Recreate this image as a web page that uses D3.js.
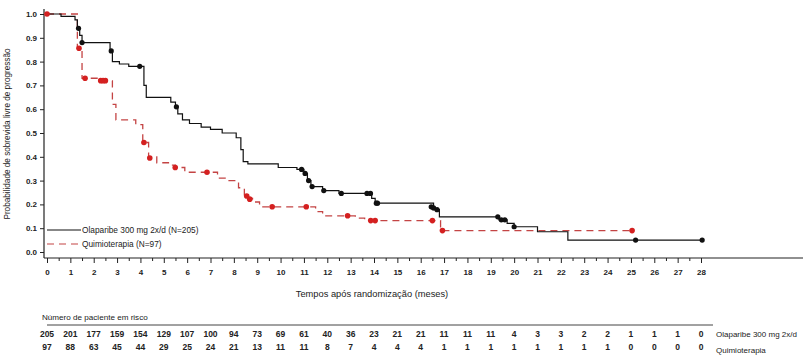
<!DOCTYPE html>
<html>
<head>
<meta charset="utf-8">
<script src="https://cdn.jsdelivr.net/npm/d3@7"></script>
<style>
  html, body { margin: 0; padding: 0; background: #fff; }
  svg { display: block; }
  text { font-family: "Liberation Sans", Arial, sans-serif; fill: #222; }
</style>
</head>
<body>
<svg id="chart" width="803" height="364"></svg>
<script>
// ---------- DATA ----------
const olaSteps = [
  [0, 1.0], [0.6, 0.99], [1.2, 0.975], [1.3, 0.94], [1.4, 0.91], [1.5, 0.88],
  [2.7, 0.845], [2.8, 0.80], [3.1, 0.79], [3.5, 0.78], [4.15, 0.70], [4.25, 0.65],
  [5.3, 0.63], [5.5, 0.61], [5.6, 0.58], [5.8, 0.555], [6.1, 0.54], [6.6, 0.525],
  [7.0, 0.515], [7.5, 0.50], [8.1, 0.48], [8.3, 0.43], [8.4, 0.38], [8.6, 0.37],
  [9.9, 0.355], [10.7, 0.347], [11.0, 0.33], [11.15, 0.30], [11.3, 0.275],
  [11.8, 0.258], [12.5, 0.246], [13.9, 0.225], [14.05, 0.205], [16.55, 0.178],
  [16.8, 0.148], [19.35, 0.135], [19.7, 0.12], [20.0, 0.106], [21.0, 0.085],
  [22.3, 0.05], [28.05, 0.05]
];
const olaCensor = [
  [1.35, 0.94], [1.5, 0.88], [2.75, 0.845], [3.97, 0.78], [5.54, 0.61],
  [10.9, 0.347], [11.05, 0.33], [11.2, 0.30], [11.35, 0.275], [11.85, 0.258],
  [12.6, 0.246], [13.7, 0.246], [13.85, 0.246], [14.1, 0.205], [14.15, 0.205],
  [16.45, 0.19], [16.55, 0.185], [16.7, 0.178], [19.3, 0.148], [19.45, 0.135],
  [19.6, 0.135], [20.0, 0.106], [25.2, 0.05], [28.05, 0.05]
];
const quimioSteps = [
  [0, 1.0], [1.3, 0.856], [1.5, 0.73], [2.3, 0.72], [2.8, 0.62], [2.95, 0.555],
  [3.8, 0.535], [4.1, 0.46], [4.35, 0.40], [4.7, 0.375], [5.2, 0.365], [5.5, 0.355],
  [5.9, 0.335], [7.3, 0.31], [7.7, 0.30], [8.2, 0.27], [8.45, 0.24], [8.6, 0.225],
  [8.8, 0.21], [9.1, 0.19], [11.5, 0.17], [11.8, 0.152], [13.2, 0.142], [13.6, 0.132],
  [16.85, 0.09], [25.05, 0.09]
];
const quimioCensor = [
  [0, 1.0], [1.37, 0.856], [1.63, 0.73], [2.3, 0.72], [2.4, 0.72], [2.5, 0.72],
  [4.15, 0.46], [4.4, 0.395], [5.49, 0.355], [6.85, 0.335], [8.55, 0.235],
  [8.68, 0.222], [9.64, 0.19], [11.1, 0.19], [12.87, 0.152], [13.86, 0.132],
  [14.05, 0.132], [16.5, 0.132], [16.93, 0.09], [25.05, 0.09]
];
const xTicks = d3.range(0, 29);
const yTicks = [0, 0.1, 0.2, 0.3, 0.4, 0.5, 0.6, 0.7, 0.8, 0.9, 1.0];
const riskOla = [205, 201, 177, 159, 154, 129, 107, 100, 94, 73, 69, 61, 40, 36, 23, 21, 21, 11, 11, 11, 4, 3, 3, 2, 2, 1, 1, 1, 0];
const riskQuimio = [97, 88, 63, 45, 44, 29, 25, 24, 21, 13, 11, 11, 8, 7, 4, 4, 4, 1, 1, 1, 1, 1, 1, 1, 1, 0, 0, 0, 0];
const seriesNames = ["Olaparibe 300 mg 2x/d (N=205)", "Quimioterapia (N=97)"];
const riskNames = ["Olaparibe 300 mg 2x/d", "Quimioterapia"];
const yTitle = "Probabilidade de sobrevida livre de progressão";
const xTitle = "Tempos após randomização (meses)";
const riskTitle = "Número de paciente em risco";

// ---------- DRAW ----------
const svg = d3.select("#chart");
const x = d3.scaleLinear().domain([0, 28]).range([47, 701]);
const y = d3.scaleLinear().domain([0, 1]).range([252, 14]);
const axisX = 44, axisY = 258;
const black = "#111", red = "#d42020", redLine = "#c44444";

// y axis
svg.append("line").attr("x1", axisX).attr("x2", axisX).attr("y1", 9).attr("y2", axisY)
  .attr("stroke", "#222").attr("stroke-width", 1.2);
const ya = svg.append("g").attr("transform", `translate(${axisX},0)`)
  .call(d3.axisLeft(y).tickValues(yTicks).tickFormat(d3.format(".1f")).tickSize(4).tickPadding(3));
ya.select(".domain").remove();
ya.selectAll(".tick line").attr("stroke", "#222");
ya.selectAll(".tick text").attr("font-size", 8).attr("font-weight", "bold").attr("fill", "#333")
  .style("font-family", "Liberation Sans, Arial, sans-serif");

// x axis
svg.append("line").attr("x1", axisX).attr("x2", 803).attr("y1", axisY).attr("y2", axisY)
  .attr("stroke", "#222").attr("stroke-width", 1.2);
const xa = svg.append("g").attr("transform", `translate(0,${axisY})`)
  .call(d3.axisBottom(x).tickValues(xTicks).tickFormat(d3.format("d")).tickSize(5).tickPadding(6));
xa.select(".domain").remove();
xa.selectAll(".tick line").attr("stroke", "#222");
xa.selectAll(".tick text").attr("font-size", 8).attr("font-weight", "bold").attr("fill", "#333")
  .style("font-family", "Liberation Sans, Arial, sans-serif");
const xm = svg.append("g").attr("transform", `translate(0,${axisY})`)
  .call(d3.axisBottom(x).tickValues(d3.range(0.5, 28, 1)).tickFormat("").tickSize(3));
xm.select(".domain").remove();
xm.selectAll(".tick line").attr("stroke", "#222");

// titles
svg.append("text").attr("transform", `translate(10,134) rotate(-90)`)
  .attr("text-anchor", "middle").attr("font-size", 8.2).text(yTitle);
svg.append("text").attr("x", 372).attr("y", 297).attr("text-anchor", "middle")
  .attr("font-size", 9.3).text(xTitle);

// curves
const line = d3.line().x(d => x(d[0])).y(d => y(d[1])).curve(d3.curveStepAfter);
svg.append("path").datum(quimioSteps).attr("d", line).attr("fill", "none")
  .attr("stroke", redLine).attr("stroke-width", 1.3).attr("stroke-dasharray", "7,5");
svg.append("path").datum(olaSteps).attr("d", line).attr("fill", "none")
  .attr("stroke", black).attr("stroke-width", 1.2);
svg.append("g").selectAll("circle").data(quimioCensor).join("circle")
  .attr("cx", d => x(d[0])).attr("cy", d => y(d[1])).attr("r", 2.8).attr("fill", red);
svg.append("g").selectAll("circle").data(olaCensor).join("circle")
  .attr("cx", d => x(d[0])).attr("cy", d => y(d[1])).attr("r", 2.6).attr("fill", black);

// legend
svg.append("line").attr("x1", 47).attr("x2", 81).attr("y1", 230).attr("y2", 230)
  .attr("stroke", black).attr("stroke-width", 1.2);
svg.append("text").attr("x", 82).attr("y", 233).attr("font-size", 8.3).attr("fill", "#333").text(seriesNames[0]);
svg.append("line").attr("x1", 47).attr("x2", 81).attr("y1", 244).attr("y2", 244)
  .attr("stroke", redLine).attr("stroke-width", 1.2).attr("stroke-dasharray", "7,5");
svg.append("text").attr("x", 82).attr("y", 247).attr("font-size", 8.3).attr("fill", "#333").text(seriesNames[1]);

// risk table
svg.append("text").attr("x", 42).attr("y", 320).attr("font-size", 8.1).attr("fill", "#333").text(riskTitle);
svg.append("line").attr("x1", 47).attr("x2", 713).attr("y1", 325).attr("y2", 325)
  .attr("stroke", "#444").attr("stroke-width", 1);
svg.append("g").selectAll("text").data(riskOla).join("text")
  .attr("x", (d, i) => x(xTicks[i])).attr("y", 337).attr("text-anchor", "middle")
  .attr("font-size", 8.5).attr("font-weight", "bold").attr("fill", "#222").text(d => d);
svg.append("g").selectAll("text").data(riskQuimio).join("text")
  .attr("x", (d, i) => x(xTicks[i])).attr("y", 350).attr("text-anchor", "middle")
  .attr("font-size", 8.5).attr("font-weight", "bold").attr("fill", "#222").text(d => d);
svg.append("text").attr("x", 716).attr("y", 337).attr("font-size", 8).attr("fill", "#333").text(riskNames[0]);
svg.append("text").attr("x", 716).attr("y", 353).attr("font-size", 8).attr("fill", "#333").text(riskNames[1]);
</script>
</body>
</html>
